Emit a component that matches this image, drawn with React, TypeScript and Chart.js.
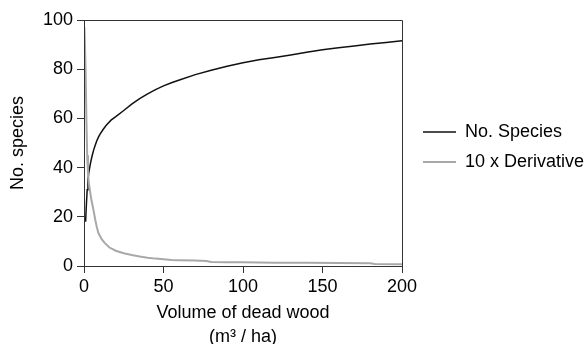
import React, { useEffect, useRef } from "react";
import { Chart, registerables } from "chart.js";

Chart.register(...registerables);

// Data
const speciesX = [1, 1.5, 2, 2.5, 3, 4, 5, 6, 7, 8, 9, 10, 12, 14, 17, 20, 25, 30, 35, 40, 45, 50, 55, 60, 70, 80, 90, 100, 110, 120, 130, 140, 150, 160, 170, 180, 190, 200];
const speciesY = [18, 25, 31, 35, 38, 41.5, 44.5, 47, 49, 50.8, 52.3, 53.5, 55.5, 57.2, 59.3, 60.7, 63.2, 65.8, 68, 70, 71.7, 73.2, 74.5, 75.6, 77.8, 79.6, 81.2, 82.6, 83.8, 84.8, 85.8, 86.9, 87.9, 88.7, 89.4, 90.2, 90.9, 91.6];

const derivX = [0.3, 1, 1.5, 2, 2.5, 3, 4, 4.6, 5.9, 7, 8, 9, 11, 13, 16, 20, 25, 30, 35, 40, 45, 50, 55, 60, 70, 77, 80, 90, 100, 110, 120, 140, 160, 180, 183, 200];
const derivY = [97, 80, 60, 45, 38, 34, 29.5, 27, 23, 19, 16, 13.5, 11, 9.4, 7.5, 6.2, 5.2, 4.5, 3.9, 3.4, 3, 2.7, 2.4, 2.3, 2.2, 2.0, 1.6, 1.5, 1.5, 1.4, 1.3, 1.3, 1.2, 1.1, 0.8, 0.7];

const seriesNames = ["No. Species", "10 x Derivative"];
const seriesColors = ["#111111", "#a8a8a8"];
const xTitle = ["Volume of dead wood", "(m\u00B3 / ha)"];
const yTitle = "No. species";
const xMin = 0, xMax = 200, xStep = 50;
const yMin = 0, yMax = 100, yStep = 20;

const FONT = "'Liberation Sans', Arial, Helvetica, sans-serif";

export default function App() {
  const ref = useRef<HTMLCanvasElement>(null);

  useEffect(() => {
    if (!ref.current) return;

    const boxPlugin = {
      id: "plotBox",
      afterDatasetsDraw(chart: any) {
        const { ctx, chartArea: a } = chart;
        ctx.save();
        ctx.strokeStyle = "#333333";
        ctx.lineWidth = 1;
        ctx.beginPath();
        ctx.moveTo(Math.round(a.left) + 0.5, Math.round(a.bottom) + 0.5);
        ctx.lineTo(Math.round(a.left) + 0.5, Math.round(a.top) + 0.5);
        ctx.lineTo(Math.round(a.right) + 0.5, Math.round(a.top) + 0.5);
        ctx.lineTo(Math.round(a.right) + 0.5, Math.round(a.bottom) + 0.5);
        ctx.lineTo(Math.round(a.left) + 0.5, Math.round(a.bottom) + 0.5);
        ctx.stroke();
        ctx.restore();
      },
    };

    const legendPlugin = {
      id: "sideLegend",
      afterDraw(chart: any) {
        const { ctx } = chart;
        ctx.save();
        const rows = [132, 162];
        seriesNames.forEach((name, i) => {
          const y = rows[i];
          ctx.strokeStyle = seriesColors[i];
          ctx.lineWidth = i === 0 ? 1.5 : 2;
          ctx.beginPath();
          ctx.moveTo(423, y);
          ctx.lineTo(456, y);
          ctx.stroke();
          ctx.fillStyle = "#000";
          ctx.font = `18px ${FONT}`;
          ctx.textBaseline = "middle";
          ctx.textAlign = "left";
          ctx.fillText(name, 465, y);
        });
        ctx.restore();
      },
    };

    const chart = new Chart(ref.current, {
      type: "line",
      data: {
        datasets: [
          {
            label: seriesNames[1],
            data: derivX.map((x, i) => ({ x, y: derivY[i] })),
            borderColor: seriesColors[1],
            borderWidth: 2,
            pointRadius: 0,
            tension: 0,
            fill: false,
          },
          {
            label: seriesNames[0],
            data: speciesX.map((x, i) => ({ x, y: speciesY[i] })),
            borderColor: seriesColors[0],
            borderWidth: 1.5,
            pointRadius: 0,
            tension: 0,
            fill: false,
          },
        ],
      },
      options: {
        responsive: false,
        animation: false,
        layout: { padding: { top: 20, right: 186, left: 0, bottom: 0 } },
        plugins: {
          legend: { display: false },
          tooltip: { enabled: false },
        },
        scales: {
          x: {
            type: "linear",
            min: xMin,
            max: xMax,
            afterFit(scale: any) {
              scale.height = 78;
            },
            ticks: {
              stepSize: xStep,
              color: "#000",
              padding: 3,
              font: { family: FONT, size: 18 },
              maxRotation: 0,
            },
            grid: {
              drawOnChartArea: false,
              drawTicks: true,
              tickLength: 7,
              color: "#333",
            },
            border: { display: true, color: "#333" },
            title: {
              display: true,
              text: xTitle,
              color: "#000",
              font: { family: FONT, size: 18, lineHeight: 1.33 },
              padding: { top: 0, bottom: -5 },
            },
          },
          y: {
            type: "linear",
            min: yMin,
            max: yMax,
            afterFit(scale: any) {
              scale.width = 84;
            },
            ticks: {
              stepSize: yStep,
              color: "#000",
              padding: 4,
              font: { family: FONT, size: 18 },
            },
            grid: {
              drawOnChartArea: false,
              drawTicks: true,
              tickLength: 7,
              color: "#333",
            },
            border: { display: true, color: "#333" },
            title: {
              display: true,
              text: yTitle,
              color: "#000",
              font: { family: FONT, size: 18 },
              padding: { top: 7, bottom: 0 },
            },
          },
        },
      },
      plugins: [boxPlugin, legendPlugin],
    } as any);

    return () => chart.destroy();
  }, []);

  return (
    <div style={{ position: "fixed", left: 0, top: 0, width: 588, height: 344, background: "#fff" }}>
      <canvas ref={ref} width={588} height={344} />
    </div>
  );
}
